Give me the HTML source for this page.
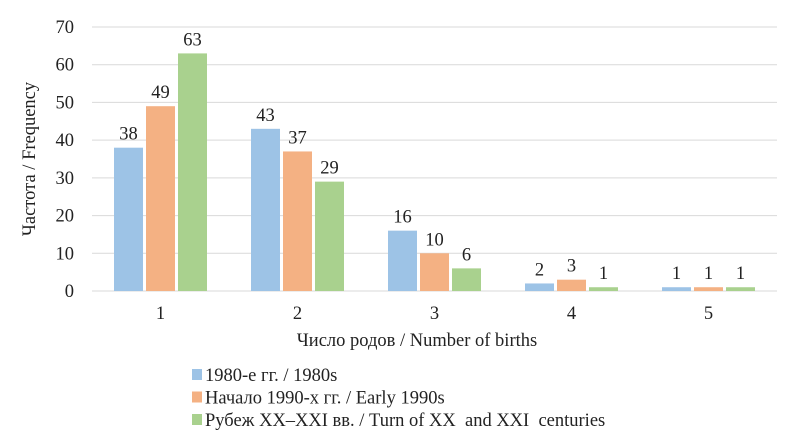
<!DOCTYPE html>
<html><head><meta charset="utf-8"><style>
body{margin:0;background:#fff;}
svg, svg text{display:block;font-family:"Liberation Serif","Times New Roman","Noto Serif CJK SC","DejaVu Serif",serif;}
</style></head><body>
<svg id="chart" width="801" height="443"></svg>
<script>
const categories=["1","2","3","4","5"];
const series1980s=[38,43,16,2,1];
const seriesEarly1990s=[49,37,10,3,1];
const seriesTurn=[63,29,6,1,1];
const seriesNames=["1980-е гг. / 1980s","Начало 1990-х гг. / Early 1990s","Рубеж XX–XXI вв. / Turn of XX  and XXI  centuries"];
const yTicks=[0,10,20,30,40,50,60,70];
const colors=["#9dc3e6","#f4b183","#a9d18e"];
const allSeries=[series1980s,seriesEarly1990s,seriesTurn];
const NS="http://www.w3.org/2000/svg";
const svg=document.getElementById('chart');
const L=92,R=777,T=27,B=291;
const y=v=>B-(v/70)*(B-T);
const bw=(R-L)/categories.length;
const xc=i=>L+bw*(i+0.5);
const FS=18.5;
const FF='"Liberation Serif","Times New Roman","Noto Serif CJK SC","DejaVu Serif",serif';
function mk(tag,attrs,text){const e=document.createElementNS(NS,tag);for(const k in attrs)e.setAttribute(k,attrs[k]);if(tag==='text')e.setAttribute('font-family',FF);if(text!==undefined)e.textContent=text;svg.appendChild(e);return e;}
yTicks.forEach(t=>{
  const g=mk('line',{x1:L,x2:R,y1:y(t),y2:y(t),stroke:'#d9d9d9','stroke-width':1});
  
  
  const tl=mk('text',{x:74,y:y(t)+6,'text-anchor':'end','font-size':FS,fill:'#222'},t);
  
  
});
const barW=29,gap=3;
categories.forEach((c,i)=>{
  allSeries.forEach((s,j)=>{
    const x=xc(i)-1.5*barW-gap+j*(barW+gap);
    const r=mk('rect',{x:x,y:y(s[i]),width:barW,height:B-y(s[i]),fill:colors[j]});
    
    
    const l=mk('text',{x:x+barW/2,y:y(s[i])-8,'text-anchor':'middle','font-size':FS,fill:'#222'},s[i]);
    
    
  });
  const xl=mk('text',{x:xc(i),y:319,'text-anchor':'middle','font-size':FS,fill:'#222'},c);
  
  
});
const xt=mk('text',{x:417,y:346,'text-anchor':'middle','font-size':FS,fill:'#222'},'Число родов / Number of births');


const yt=mk('text',{x:0,y:0,'text-anchor':'middle','font-size':FS,fill:'#222',transform:'translate(35,159) rotate(-90)'},'Частота / Frequency');


seriesNames.forEach((n,j)=>{
  const yy=381+j*22.5;
  const sq=mk('rect',{x:192,y:yy-12,width:10,height:11,fill:colors[j]});
  
  
  const t=mk('text',{x:205,y:yy,'font-size':FS,fill:'#222','xml:space':'preserve'},n);
  
  
  t.style.whiteSpace='pre';
});
</script>
</body></html>
